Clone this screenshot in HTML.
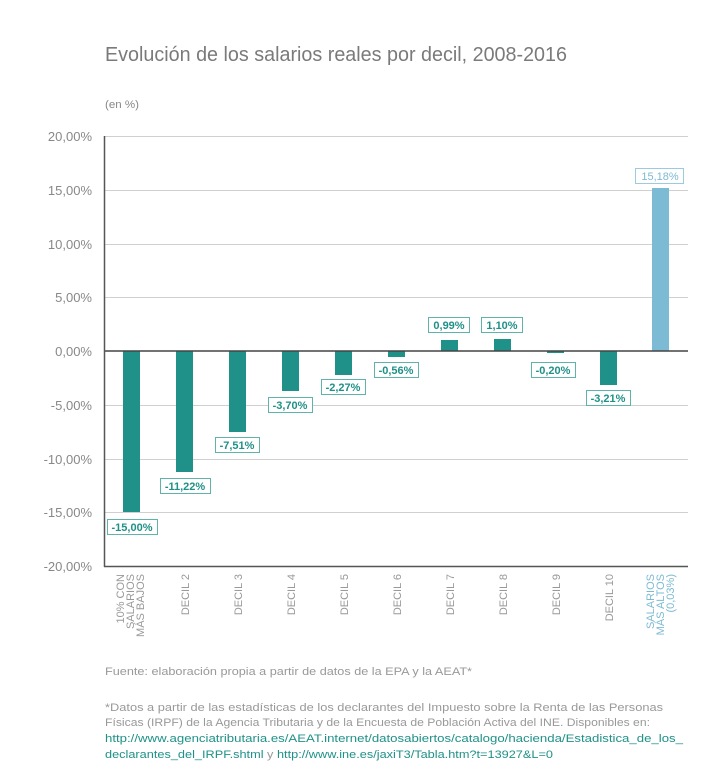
<!DOCTYPE html>
<html><head><meta charset="utf-8"><style>
html,body{margin:0;padding:0;background:#fff;}
svg{display:block;font-family:"Liberation Sans",sans-serif;}
</style></head><body>
<svg width="720" height="781" viewBox="0 0 720 781" xmlns="http://www.w3.org/2000/svg">
<text x="105" y="61" font-size="20" fill="#7a7a7a" textLength="462" lengthAdjust="spacingAndGlyphs">Evolución de los salarios reales por decil, 2008-2016</text>
<text x="105" y="108" font-size="11" fill="#888" textLength="34" lengthAdjust="spacingAndGlyphs">(en %)</text>
<g stroke="#d0d0d0" stroke-width="1">
<line x1="104" x2="688" y1="136.5" y2="136.5"/><line x1="104" x2="688" y1="190.5" y2="190.5"/>
<line x1="104" x2="688" y1="244.5" y2="244.5"/><line x1="104" x2="688" y1="297.5" y2="297.5"/>
<line x1="104" x2="688" y1="405.5" y2="405.5"/><line x1="104" x2="688" y1="459.5" y2="459.5"/>
<line x1="104" x2="688" y1="512.5" y2="512.5"/>
</g>
<g font-size="13" fill="#888" text-anchor="end">
<text x="92" y="141">20,00%</text><text x="92" y="195">15,00%</text><text x="92" y="249">10,00%</text>
<text x="92" y="302">5,00%</text><text x="92" y="356">0,00%</text><text x="92" y="410">-5,00%</text>
<text x="92" y="464">-10,00%</text><text x="92" y="517">-15,00%</text><text x="92" y="571">-20,00%</text>
</g>
<g fill="#1f9188">
<rect x="123" y="351" width="17" height="161"/>
<rect x="176" y="351" width="17" height="121"/>
<rect x="229" y="351" width="17" height="81"/>
<rect x="282" y="351" width="17" height="40"/>
<rect x="335" y="351" width="17" height="24"/>
<rect x="388" y="351" width="17" height="6"/>
<rect x="441" y="340" width="17" height="11"/>
<rect x="494" y="339" width="17" height="12"/>
<rect x="547" y="351" width="17" height="2"/>
<rect x="600" y="351" width="17" height="34"/>
</g>
<rect x="652" y="188" width="17" height="163" fill="#7dbad3"/>
<line x1="104" x2="688" y1="351" y2="351" stroke="#444" stroke-width="1.5"/>
<line x1="104.5" x2="104.5" y1="136" y2="567" stroke="#555" stroke-width="1.5"/>
<line x1="104" x2="688" y1="566.5" y2="566.5" stroke="#555" stroke-width="1.5"/>
<g font-size="11" font-weight="bold" fill="#1f9188" text-anchor="middle">
<g stroke="#5fb3ab" stroke-width="1" fill="#fff">
<rect x="107.5" y="519.5" width="50" height="15"/><rect x="160.5" y="478.5" width="50" height="15"/>
<rect x="215.5" y="437.5" width="44" height="15"/><rect x="268.5" y="397.5" width="44" height="15"/>
<rect x="321.5" y="379.5" width="44" height="15"/><rect x="374.5" y="362.5" width="44" height="15"/>
<rect x="428.5" y="317.5" width="41" height="15"/><rect x="481.5" y="317.5" width="41" height="15"/>
<rect x="531.5" y="362.5" width="44" height="15"/><rect x="586.5" y="390.5" width="44" height="15"/>
</g>
<text x="132" y="531">-15,00%</text><text x="185" y="490">-11,22%</text><text x="237" y="449">-7,51%</text>
<text x="290" y="409">-3,70%</text><text x="343" y="391">-2,27%</text><text x="396" y="374">-0,56%</text>
<text x="449" y="329">0,99%</text><text x="502" y="329">1,10%</text><text x="553" y="374">-0,20%</text>
<text x="608" y="402">-3,21%</text>
</g>
<rect x="635.5" y="168.5" width="48" height="15" fill="#fff" stroke="#9ccbe0"/>
<text x="660" y="180" font-size="11" fill="#7dbad3" text-anchor="middle">15,18%</text>
<g font-size="11" fill="#999" text-anchor="end">
<text transform="translate(124,574) rotate(-90)">10% CON</text>
<text transform="translate(134,574) rotate(-90)">SALARIOS</text>
<text transform="translate(144,574) rotate(-90)">MÁS BAJOS</text>
<text transform="translate(189,574) rotate(-90)">DECIL 2</text>
<text transform="translate(242,574) rotate(-90)">DECIL 3</text>
<text transform="translate(295,574) rotate(-90)">DECIL 4</text>
<text transform="translate(348,574) rotate(-90)">DECIL 5</text>
<text transform="translate(401,574) rotate(-90)">DECIL 6</text>
<text transform="translate(454,574) rotate(-90)">DECIL 7</text>
<text transform="translate(507,574) rotate(-90)">DECIL 8</text>
<text transform="translate(560,574) rotate(-90)">DECIL 9</text>
<text transform="translate(613,574) rotate(-90)">DECIL 10</text>
</g>
<g font-size="11" fill="#7dbad3" text-anchor="end">
<text transform="translate(654,574) rotate(-90)">SALARIOS</text>
<text transform="translate(664,574) rotate(-90)">MÁS ALTOS</text>
<text transform="translate(674,574) rotate(-90)">(0,03%)</text>
</g>
<text x="105" y="675" font-size="11" fill="#999" textLength="367" lengthAdjust="spacingAndGlyphs">Fuente: elaboración propia a partir de datos de la EPA y la AEAT*</text>
<text x="105" y="711" font-size="11" fill="#999" textLength="558" lengthAdjust="spacingAndGlyphs">*Datos a partir de las estadísticas de los declarantes del Impuesto sobre la Renta de las Personas</text>
<text x="105" y="726" font-size="11" fill="#999" textLength="545" lengthAdjust="spacingAndGlyphs">Físicas (IRPF) de la Agencia Tributaria y de la Encuesta de Población Activa del INE. Disponibles en:</text>
<text x="105" y="742" font-size="11" fill="#1f9188" textLength="578" lengthAdjust="spacingAndGlyphs">http://www.agenciatributaria.es/AEAT.internet/datosabiertos/catalogo/hacienda/Estadistica_de_los_</text>
<text x="105" y="758" font-size="11" fill="#1f9188" textLength="448" lengthAdjust="spacingAndGlyphs">declarantes_del_IRPF.shtml <tspan fill="#999">y</tspan> http://www.ine.es/jaxiT3/Tabla.htm?t=13927&amp;L=0</text>
</svg>
</body></html>
